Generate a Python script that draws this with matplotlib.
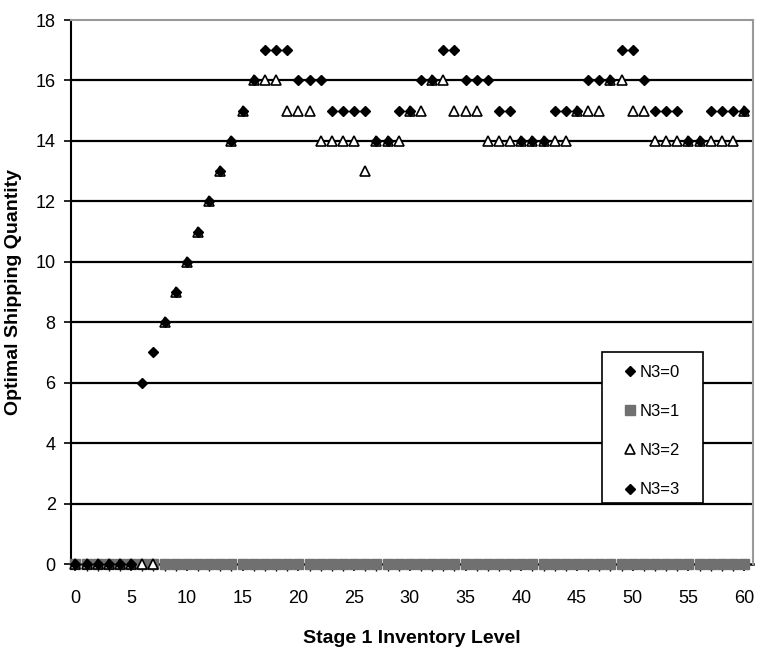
import numpy as np
import matplotlib
matplotlib.use("Agg")
import matplotlib.pyplot as plt
from matplotlib.patches import Rectangle

plt.rcParams['font.family'] = ['Liberation Sans', 'DejaVu Sans']

# stage 1 inventory level
inventory = list(range(61))

# optimal shipping quantity per N3 value
ship_n3_0 = [0] * 61
ship_n3_1 = [0] * 61
ship_n3_2 = [0, 0, 0, 0, 0, 0, 0, 0, 8, 9, 10, 11, 12, 13, 14, 15,
             16, 16, 16, 15, 15, 15, 14, 14, 14, 14, 13, 14, 14, 14,
             15, 15, 16, 16, 15, 15, 15, 14, 14, 14, 14, 14, 14, 14,
             14, 15, 15, 15, 16, 16, 15, 15, 14, 14, 14, 14, 14, 14,
             14, 14, 15]
ship_n3_3 = [0, 0, 0, 0, 0, 0, 6, 7, 8, 9, 10, 11, 12, 13, 14, 15,
             16, 17, 17, 17, 16, 16, 16, 15, 15, 15, 15, 14, 14, 15,
             15, 16, 16, 17, 17, 16, 16, 16, 15, 15, 14, 14, 14, 15,
             15, 15, 16, 16, 16, 17, 17, 16, 15, 15, 15, 14, 14, 15,
             15, 15, 15]

fig = plt.figure(figsize=(7.57, 6.56), dpi=100)
ax = fig.add_axes([0.0938, 0.1402, 0.9010, 0.8293])

ax.plot(inventory, ship_n3_0, linestyle='none', marker='D', ms=5.4,
        color='black', label='N3=0', clip_on=False, zorder=3)
ax.plot(inventory, ship_n3_1, linestyle='none', marker='s', ms=6.6,
        color='#707070', label='N3=1', clip_on=False, zorder=3)
ax.plot(inventory, ship_n3_2, linestyle='none', marker='^', ms=7,
        markerfacecolor='white', markeredgecolor='black', mew=1.2,
        label='N3=2', clip_on=False, zorder=3)
ax.plot(inventory, ship_n3_3, linestyle='none', marker='D', ms=5.4,
        color='black', label='N3=3', clip_on=False, zorder=3)

ax.set_xlim(-0.4, 60.8)
ax.set_ylim(0, 18)
ax.set_xticks(range(0, 61, 5))
ax.set_xticks(range(0, 61), minor=True)
ax.set_yticks(range(0, 19, 2))
for y in range(2, 18, 2):
    ax.axhline(y, color='black', lw=1.6, zorder=1)

for s in ['top', 'right']:
    ax.spines[s].set_color('#999999')
    ax.spines[s].set_linewidth(1.5)
ax.spines['left'].set_linewidth(1.5)
ax.spines['bottom'].set_linewidth(1.8)
ax.spines['bottom'].set_zorder(2)

ax.tick_params(axis='both', which='major', labelsize=13, length=5, width=1.2,
               direction='out')
ax.tick_params(axis='x', which='minor', length=5, width=1.0, direction='out')
ax.tick_params(axis='x', which='major', pad=14)
ax.tick_params(axis='y', which='major', pad=6)

ax.set_xlabel('Stage 1 Inventory Level', fontsize=14, fontweight='bold',
              labelpad=16)
ax.set_ylabel('Optimal Shipping Quantity', fontsize=14, fontweight='bold',
              labelpad=10)

# legend box drawn by hand so the padding matches
ax.add_patch(Rectangle((0.7786, 0.1121), 0.148, 0.2776, transform=ax.transAxes,
                       facecolor='white', edgecolor='black', lw=1.2,
                       zorder=4, clip_on=False))
leg = ax.legend(loc='upper left', bbox_to_anchor=(0.811, 0.366), fontsize=12,
                frameon=False, handlelength=0.7, handletextpad=0.25,
                labelspacing=1.45, borderpad=0, borderaxespad=0)
leg.set_zorder(5)

fig.savefig('out.png', dpi=100)
